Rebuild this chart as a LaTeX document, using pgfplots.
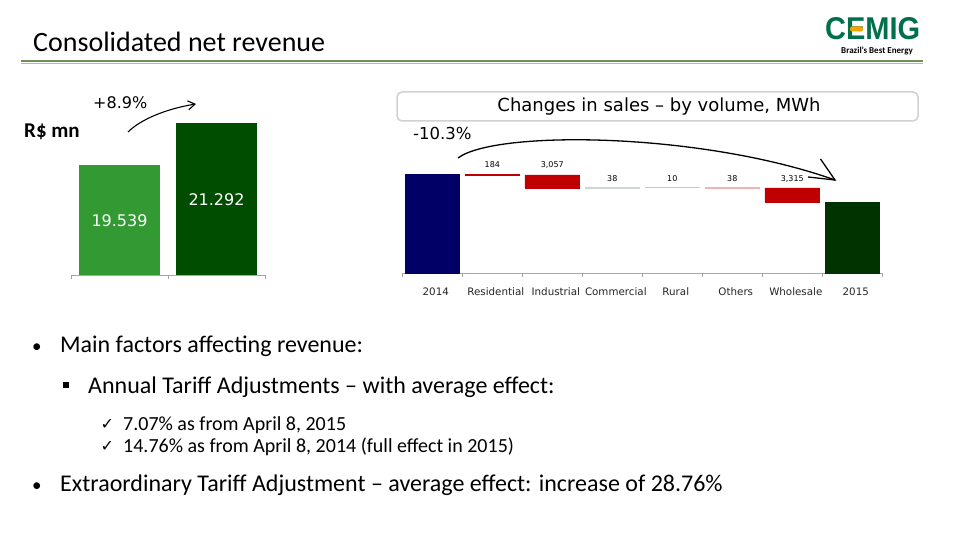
\documentclass[border=0pt]{standalone}
\usepackage{fontspec}
\setmainfont{Carlito}
\newfontfamily\dv{DejaVu Sans}
\newfontfamily\lsans{Liberation Sans}
\usepackage{graphicx}
\usepackage{pgfplots}
\pgfplotsset{compat=1.18}
\usetikzlibrary{arrows.meta}
\definecolor{cgreen}{HTML}{339933}
\definecolor{cdkgreen}{HTML}{004D00}
\definecolor{cnavy}{HTML}{000066}
\definecolor{c2015}{HTML}{003300}
\definecolor{cred}{HTML}{C00000}
\definecolor{cpink}{HTML}{F0B4B4}
\definecolor{cposg}{HTML}{CDD8D2}
\definecolor{logo}{HTML}{00704A}
\definecolor{logoorange}{HTML}{F5A300}
\definecolor{lineA}{HTML}{6E9255}
\definecolor{lineB}{HTML}{9BD17A}
\begin{document}
\begin{tikzpicture}[x=1pt,y=1pt]
\useasboundingbox (0,0) rectangle (959,540);
\fill[white] (0,0) rectangle (959,540);
% title and rule
\node[anchor=base west, inner sep=0] at (33,488) {\fontsize{28}{33}\selectfont Consolidated net revenue};
\draw[lineA, line width=1.3pt] (21,479) -- (923,479);
\draw[lineB, line width=1.3pt] (21,476.8) -- (923,476.8);
% logo
\node[anchor=south west, inner sep=0, text=logo] at (825,500) {\resizebox{95pt}{22pt}{\lsans\bfseries CEMIG}};
\fill[logoorange, rounded corners=2pt] (850,508.5) rectangle (863,513.5);
\node[inner sep=0] at (877,489.5) {\fontsize{9}{10}\selectfont\bfseries Brazil's Best Energy};
% left chart annotations
\node[anchor=base west, inner sep=0] at (24,402) {\fontsize{21}{25}\selectfont\bfseries R\$ mn};
\node[anchor=base west, inner sep=0] at (93,431) {\dv\fontsize{16}{19}\selectfont +8.9\%};
\draw[line width=1.1pt, -{Straight Barb[length=7pt,width=9pt]}] (128,408) .. controls (140,420) and (165,431) .. (196,436);
\begin{axis}[at={(71pt,264.5pt)}, anchor=south west, scale only axis,
  width=194pt, height=170.2pt, xmin=-0.5, xmax=1.5, ymin=15, ymax=22,
  ybar, bar width=81pt,
  axis x line=bottom, axis y line=none,
  x axis line style={-, draw=black!35, line width=0.8pt},
  xtick={-0.5,0.5,1.5}, xticklabels={}, ytick=\empty,
  tick align=outside, major tick length=4pt,
  x tick style={draw=black!35, line width=0.8pt},
  clip mode=individual]
\addplot[fill=cgreen, draw=none, bar shift=0pt] coordinates {(0,19.539)};
\addplot[fill=cdkgreen, draw=none, bar shift=0pt] coordinates {(1,21.292)};
\node[text=white, font=\dv\fontsize{16}{19}\selectfont] at (axis cs:0,17.24) {19.539};
\node[text=white, font=\dv\fontsize{16}{19}\selectfont] at (axis cs:1,18.10) {21.292};
\end{axis}
% right chart header box
\draw[black!18, line width=1.5pt, rounded corners=5pt, fill=white] (397,448) rectangle (918,419);
\node at (659,433.5) {\dv\fontsize{18}{21}\selectfont Changes in sales – by volume, MWh};
\node[anchor=base west, inner sep=0] at (413,400) {\dv\fontsize{16.5}{19}\selectfont -10.3\%};
\draw[line width=1.3pt] (458,382) .. controls (495,410) and (700,408) .. (835,360);
\draw[line width=1.3pt] (820.5,381) -- (835,360) -- (808,363);
% waterfall
\begin{axis}[at={(402.3pt,266.5pt)}, anchor=south west, scale only axis,
  width=480pt, height=105.75pt, xmin=-0.5, xmax=7.5, ymin=40000, ymax=65000,
  ybar stacked, bar width=54.7pt,
  axis x line=bottom, axis y line=none,
  x axis line style={-, draw=black!35, line width=0.8pt},
  xtick={-0.5,0.5,...,7.5}, xticklabels={}, ytick=\empty,
  tick align=outside, major tick length=3.5pt,
  x tick style={draw=black!35, line width=0.8pt},
  extra x ticks={0,1,2,3,4,5,6,7},
  extra x tick labels={2014,Residential,Industrial,Commercial,Rural,Others,Wholesale,2015},
  extra x tick style={major tick length=0pt},
  xticklabel style={font=\dv\fontsize{10.3}{12}\selectfont, text=black!85, anchor=base, yshift=-22.5pt, xshift=3.5pt},
  clip mode=individual]
\addplot[fill=none, draw=none] coordinates {(0,0)(1,63286)(2,60229)(3,0)(4,0)(5,0)(6,56904)(7,0)};
\addplot[fill=cred, draw=cred, line width=0.4pt] coordinates {(0,0)(1,184)(2,3057)(3,0)(4,0)(5,0)(6,3315)(7,0)};
\addplot[fill=cnavy, draw=none] coordinates {(0,63470)(1,0)(2,0)(3,0)(4,0)(5,0)(6,0)(7,0)};
\addplot[fill=c2015, draw=none] coordinates {(0,0)(1,0)(2,0)(3,0)(4,0)(5,0)(6,0)(7,56904)};
\node[text=white, font=\dv\fontsize{9}{11}\selectfont] at ([xshift=2pt]axis cs:0,51150) {63,470};
\node[text=white, font=\dv\fontsize{9}{11}\selectfont] at ([xshift=2pt]axis cs:7,47800) {56,904};
\node[anchor=base, font=\dv\fontsize{8}{10}\selectfont] at ([yshift=7pt]axis cs:1,63470) {184};
\node[anchor=base, font=\dv\fontsize{8}{10}\selectfont] at ([yshift=7pt]axis cs:2,63286) {3,057};
\node[anchor=base, font=\dv\fontsize{8}{10}\selectfont] at ([yshift=6.5pt]axis cs:3,60267) {38};
\node[anchor=base, font=\dv\fontsize{8}{10}\selectfont] at ([yshift=6.5pt]axis cs:4,60257) {10};
\node[anchor=base, font=\dv\fontsize{8}{10}\selectfont] at ([yshift=6.5pt]axis cs:5,60219) {38};
\node[anchor=base, font=\dv\fontsize{8}{10}\selectfont] at ([yshift=6.5pt]axis cs:6,60219) {3,315};
\end{axis}
% commercial (increase)
\begin{axis}[at={(402.3pt,266.5pt)}, anchor=south west, scale only axis,
  width=480pt, height=105.75pt, xmin=-0.5, xmax=7.5, ymin=40000, ymax=65000,
  ybar stacked, bar width=54.7pt, hide axis]
\addplot[fill=none, draw=none] coordinates {(3,60229)};
\addplot[fill=cposg, draw=cposg, line width=0.8pt] coordinates {(3,38)};
\end{axis}
% small decreases (rural, others)
\begin{axis}[at={(402.3pt,266.5pt)}, anchor=south west, scale only axis,
  width=480pt, height=105.75pt, xmin=-0.5, xmax=7.5, ymin=40000, ymax=65000,
  ybar stacked, bar width=54.7pt, hide axis]
\addplot[fill=none, draw=none] coordinates {(4,60257)(5,60219)};
\addplot[fill=cpink, draw=cpink, line width=0.8pt] coordinates {(4,10)(5,38)};
\end{axis}
% bullets
\node[anchor=base west, inner sep=0] at (32,187.7) {\fontsize{19}{22}\selectfont •};
\node[anchor=base west, inner sep=0] at (60,187.7) {\fontsize{24}{28}\selectfont Main factors affecting revenue:};
\fill (63,152) rectangle (69,158);
\node[anchor=base west, inner sep=0] at (88,146.7) {\fontsize{24}{28}\selectfont Annual Tariff Adjustments – with average effect:};
\node[anchor=base west, inner sep=0] at (100.5,110) {\dv\fontsize{16}{18}\selectfont ✓};
\node[anchor=base west, inner sep=0] at (123,109.7) {\fontsize{20}{24}\selectfont 7.07\% as from April 8, 2015};
\node[anchor=base west, inner sep=0] at (100.5,88) {\dv\fontsize{16}{18}\selectfont ✓};
\node[anchor=base west, inner sep=0] at (123,87.7) {\fontsize{20}{24}\selectfont 14.76\% as from April 8, 2014 (full effect in 2015)};
\node[anchor=base west, inner sep=0] at (32,48.7) {\fontsize{19}{22}\selectfont •};
\node[anchor=base west, inner sep=0] at (60,48.7) {\fontsize{24}{28}\selectfont Extraordinary Tariff Adjustment – average effect: increase of 28.76\%};
\end{tikzpicture}
\end{document}
